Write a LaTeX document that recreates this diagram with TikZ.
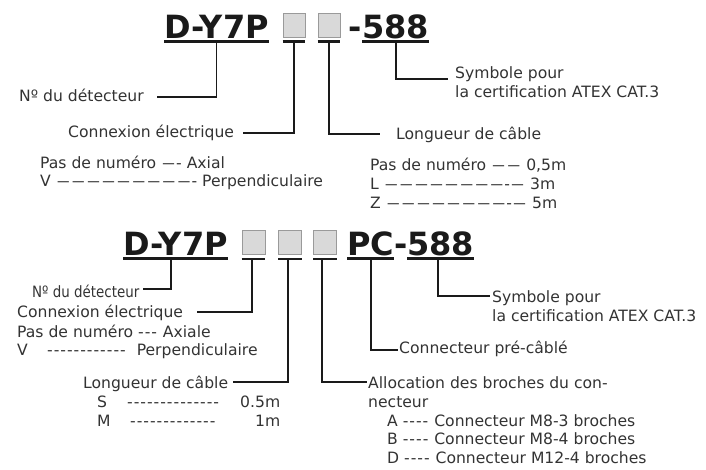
\documentclass[tikz,border=0pt]{standalone}
\usepackage{fontspec}
\usepackage{graphicx}
\setmainfont{DejaVu Sans}
\definecolor{txt}{HTML}{333333}
\definecolor{ink}{HTML}{1A1A1A}
\definecolor{boxfill}{HTML}{D9D9D9}
\definecolor{boxline}{HTML}{9A9A9A}
\newcommand\hy{-\kern1pt}
\newcommand\emd{\kern1.3pt\scalebox{0.8}[1]{—}\kern1.3pt}
\begin{document}
\begin{tikzpicture}[x=1pt,y=-1pt,
  title/.style={font=\fontsize{32}{36}\selectfont\bfseries, text=ink, inner sep=0pt, anchor=base west},
  lbl/.style={font=\fontsize{15.6}{19}\selectfont, text=txt, inner sep=0pt, anchor=base west},
  cbox/.style={draw=boxline, fill=boxfill, line width=0.8pt, minimum width=22pt, minimum height=24pt, inner sep=0pt},
  ul/.style={draw=ink, line width=2.2pt},
  conn/.style={draw=ink, line width=1.8pt}]
\fill[white] (0,0) rectangle (706,469);
\useasboundingbox (0,0) rectangle (706,469);

% ---------- top code ----------
\node[title] (t1) at (164,38) {D-Y7P};
\node[cbox] (b1) at (294,25) {};
\node[cbox] (b2) at (329,25) {};
\node[title] (d1) at (348,38) {-};
\node[title] (n1) at (362,38) {588};
\draw[ul] ([yshift=-3.5pt]t1.base west) -- ([yshift=-3.5pt]t1.base east);
\draw[ul] ([yshift=-4pt]b1.south west) -- ([yshift=-4pt]b1.south east);
\draw[ul] ([yshift=-4pt]b2.south west) -- ([yshift=-4pt]b2.south east);
\draw[ul] ([yshift=-3.5pt]n1.base west) -- ([yshift=-3.5pt]n1.base east);

\node[lbl] (l1) at (19,101) {Nº du détecteur};
\node[lbl] (l2) at (68,137) {Connexion électrique};
\node[lbl] (l3) at (396,139) {Longueur de câble};
\node[lbl] (l4) at (455,78) {Symbole pour};
\node[lbl] (l5) at (455,97) {la certification ATEX CAT.3};
\node[lbl] (l6) at (40,168) {Pas de numéro \emd- Axial};
\node[lbl] (l7) at (40,186) {V \emd\emd\emd\emd\emd\emd\emd\emd\emd- Perpendiculaire};
\node[lbl] (l8) at (370,170) {Pas de numéro \emd\emd{} 0,5m};
\node[lbl] (l9) at (370,189) {L \emd\emd\emd\emd\emd\emd\emd\emd-\emd{} 3m};
\node[lbl] (l10) at (370,208) {Z \emd\emd\emd\emd\emd\emd\emd\emd-\emd{} 5m};

\coordinate (e1) at (157,97);
\coordinate (e2) at (243,133);
\coordinate (e3) at (380,134);
\coordinate (e4) at (448,79);
\draw[conn] ([yshift=-3.5pt]t1.base) |- (e1);
\draw[conn] ([yshift=-4pt]b1.south) |- (e2);
\draw[conn] ([yshift=-4pt]b2.south) |- (e3);
\draw[conn] ([yshift=-3.5pt]n1.base) |- (e4);

% ---------- bottom code ----------
\node[title] (t2) at (123,255) {D-Y7P};
\node[cbox, minimum width=23pt] (c1) at (253.5,242) {};
\node[cbox, minimum width=23pt] (c2) at (290,242) {};
\node[cbox, minimum width=23pt] (c3) at (325,242) {};
\node[title] (p2) at (347,255) {PC};
\node[title] (d2) at (394,255) {-};
\node[title] (n2) at (407,255) {588};
\draw[ul] ([yshift=-3.5pt]t2.base west) -- ([yshift=-3.5pt]t2.base east);
\draw[ul] ([yshift=-4.5pt]c1.south west) -- ([yshift=-4.5pt]c1.south east);
\draw[ul] ([yshift=-4.5pt]c2.south west) -- ([yshift=-4.5pt]c2.south east);
\draw[ul] ([yshift=-4.5pt]c3.south west) -- ([yshift=-4.5pt]c3.south east);
\draw[ul] ([yshift=-3.5pt]p2.base west) -- ([yshift=-3.5pt]p2.base east);
\draw[ul] ([yshift=-3.5pt]n2.base west) -- ([yshift=-3.5pt]n2.base east);

\node[lbl] (m1) at (32,297) {\scalebox{0.86}[1]{Nº du détecteur}};
\node[lbl] (m2) at (17,317) {Connexion électrique};
\node[lbl] (m3) at (17,337) {Pas de numéro \hy\hy\hy{} Axiale};
\node[lbl] (m4) at (17,355) {\makebox[30pt][l]{V}\hy\hy\hy\hy\hy\hy\hy\hy\hy\hy\hy\hy\hspace{10pt}Perpendiculaire};
\node[lbl] (m5) at (83,388) {Longueur de câble};
\node[lbl] (m6) at (97,407) {\makebox[183pt][l]{\makebox[30pt][l]{S}\hy\hy\hy\hy\hy\hy\hy\hy\hy\hy\hy\hy\hy\hy\hfill 0.5m}};
\node[lbl] (m7) at (97,426) {\makebox[183pt][l]{\makebox[33pt][l]{M}\hy\hy\hy\hy\hy\hy\hy\hy\hy\hy\hy\hy\hy\hfill 1m}};
\node[lbl] (m8) at (399,353) {Connecteur pré-câblé};
\node[lbl] (m9) at (492,302) {Symbole pour};
\node[lbl] (m10) at (492,321) {la certification ATEX CAT.3};
\node[lbl] (m11) at (368,388) {Allocation des broches du con-};
\node[lbl] (m12) at (368,407) {necteur};
\node[lbl] (m13) at (387,426) {A \hy\hy\hy\hy{} Connecteur M8-3 broches};
\node[lbl] (m14) at (387,444) {B \hy\hy\hy\hy{} Connecteur M8-4 broches};
\node[lbl] (m15) at (387,463) {D \hy\hy\hy\hy{} Connecteur M12-4 broches};

\coordinate (f1) at (143,289);
\coordinate (f2) at (197,312);
\coordinate (f3) at (233,382);
\coordinate (f4) at (367,382);
\coordinate (f5) at (398,350);
\coordinate (f6) at (490,296);
\draw[conn] ([xshift=-4.5pt,yshift=-3.5pt]t2.base) |- (f1);
\draw[conn] ([xshift=-1.5pt,yshift=-4.5pt]c1.south) |- (f2);
\draw[conn] ([xshift=-2pt,yshift=-4.5pt]c2.south) |- (f3);
\draw[conn] ([xshift=-3pt,yshift=-4.5pt]c3.south) |- (f4);
\draw[conn] ([yshift=-3.5pt]p2.base) |- (f5);
\draw[conn] ([xshift=-2.5pt,yshift=-3.5pt]n2.base) |- (f6);
\end{tikzpicture}
\end{document}
